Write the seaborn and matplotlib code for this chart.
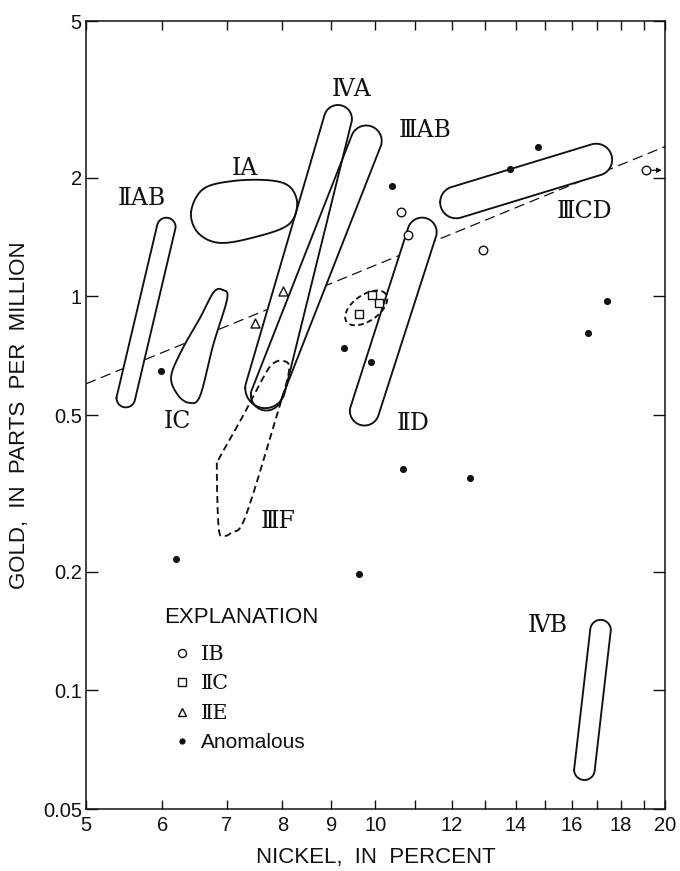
import numpy as np
import matplotlib
matplotlib.use("Agg")
import matplotlib.pyplot as plt
from matplotlib.lines import Line2D
from matplotlib.ticker import FixedLocator, FixedFormatter, NullLocator, NullFormatter
import seaborn as sns

# ---------------- data: gold vs nickel in iron meteorites ----------------
anomalous_ni = [10.40, 13.81, 14.77, 17.39, 16.65, 9.27, 9.89, 10.67, 12.54, 9.61, 5.98, 6.20]
anomalous_au = [1.91, 2.10, 2.39, 0.974, 0.809, 0.738, 0.680, 0.365, 0.345, 0.198, 0.648, 0.216]
ib_ni = [10.63, 10.80, 12.93, 19.11]
ib_au = [1.64, 1.43, 1.31, 2.09]
iic_ni = [9.91, 10.08, 9.61]
iic_au = [1.01, 0.964, 0.901]
iie_ni = [7.50, 8.01]
iie_au = [0.857, 1.03]

trend_ni = [5.0, 20.0]
trend_au = [0.60, 2.40]

# elongated group fields: (nickel, gold) at both ends of the field axis
iiab_axis = [(5.50, 0.552), (6.06, 1.50)]
iva_axis = [(7.68, 0.585), (9.14, 2.82)]
iiiab_axis = [(7.70, 0.562), (9.78, 2.48)]
iid_axis = [(9.74, 0.512), (11.18, 1.455)]
iiicd_axis = [(12.13, 1.733), (16.96, 2.223)]
ivb_axis = [(16.49, 0.0629), (17.14, 0.1422)]

# irregular group fields: outline vertices (nickel, gold)
ia_outline = [(6.43, 1.637), (6.62, 1.873), (7.11, 1.963), (7.77, 1.97), (8.15, 1.895),
              (8.29, 1.706), (8.11, 1.518), (7.50, 1.415), (6.89, 1.367), (6.54, 1.449)]
ic_outline = [(6.94, 1.038), (7.01, 0.985), (6.78, 0.753), (6.57, 0.559), (6.40, 0.537),
              (6.23, 0.562), (6.13, 0.625), (6.29, 0.731), (6.57, 0.882), (6.79, 1.026)]
iiif_outline = [(8.02, 0.686), (8.13, 0.647), (7.88, 0.491), (7.32, 0.275), (7.09, 0.252),
                (6.96, 0.247), (6.87, 0.258), (6.84, 0.371), (6.89, 0.391), (7.27, 0.494),
                (7.62, 0.614), (7.81, 0.673)]
iic_center = (9.78, 0.935)

field_labels = ["\u2163A", "\u2162AB", "\u2160A", "\u2161AB", "\u2160C", "\u2162F", "\u2161D", "\u2162CD", "\u2163B"]
label_ni = [9.45, 11.26, 7.32, 5.72, 6.22, 7.92, 10.94, 16.51, 15.12]
label_au = [3.36, 2.64, 2.11, 1.77, 0.480, 0.269, 0.477, 1.64, 0.146]

legend_labels = ["\u2160B", "\u2161C", "\u2161E", "Anomalous"]

x_ticks = [5, 6, 7, 8, 9, 10, 12, 14, 16, 18, 20]
x_minor = [11, 13, 15, 17, 19]
y_ticks = [0.05, 0.1, 0.2, 0.5, 1, 2, 5]
y_ticklabels = ["0.05", "0.1", "0.2", "0.5", "1", "2", "5"]

# ---------------- style ----------------
sns.set_theme(style="ticks")
plt.rcParams["font.family"] = ["Liberation Sans", "DejaVu Sans"]
plt.rcParams["lines.scale_dashes"] = False
SERIF = ["DejaVu Serif", "DejaVu Sans"]
INK = "#111111"
LW = 1.35

fig = plt.figure(figsize=(6.8, 8.71), dpi=100)
ax = fig.add_axes([86 / 680, 62 / 871, 579 / 680, 788 / 871])
ax.set_xscale("log")
ax.set_yscale("log")
ax.set_xlim(5, 20)
ax.set_ylim(0.05, 5)


def convex_hull(p):
    p = p[np.lexsort((p[:, 1], p[:, 0]))]

    def half(points):
        h = []
        for q in points:
            while len(h) >= 2:
                a = h[-1] - h[-2]
                b = q - h[-2]
                if a[0] * b[1] - a[1] * b[0] <= 0:
                    h.pop()
                else:
                    break
            h.append(q)
        return h

    lower = half(p)
    upper = half(p[::-1])
    return np.array(lower[:-1] + upper[:-1])


def capsule(ends, radii):
    """Rounded field around an axis, built in screen space and mapped back to data."""
    c = ax.transData.transform(np.asarray(ends, float))
    t = np.linspace(0, 2 * np.pi, 240, endpoint=False)
    ring = np.c_[np.cos(t), np.sin(t)]
    pts = np.vstack([c[0] + radii[0] * ring, c[1] + radii[1] * ring])
    h = convex_hull(pts)
    h = np.vstack([h, h[:1]])
    d = ax.transData.inverted().transform(h)
    return d[:, 0], d[:, 1]


def closed_spline(pts, n=40):
    P = np.log10(np.asarray(pts, float))
    m = len(P)
    t = np.linspace(0, 1, n, endpoint=False)[:, None]
    seg = []
    for i in range(m):
        p0, p1, p2, p3 = P[i - 1], P[i], P[(i + 1) % m], P[(i + 2) % m]
        seg.append(0.5 * (2 * p1 + (-p0 + p2) * t + (2 * p0 - 5 * p1 + 4 * p2 - p3) * t ** 2
                          + (-p0 + 3 * p1 - 3 * p2 + p3) * t ** 3))
    out = np.vstack(seg + [seg[0][:1]])
    return 10 ** out[:, 0], 10 ** out[:, 1]


def ellipse(center, a, b, angle_deg):
    c = ax.transData.transform([center])[0]
    t = np.linspace(0, 2 * np.pi, 200)
    th = np.deg2rad(angle_deg)
    x = a * np.cos(t)
    y = b * np.sin(t)
    pts = np.c_[c[0] + x * np.cos(th) - y * np.sin(th), c[1] + x * np.sin(th) + y * np.cos(th)]
    d = ax.transData.inverted().transform(pts)
    return d[:, 0], d[:, 1]


# trend line (hidden inside the fields)
sns.lineplot(x=trend_ni, y=trend_au, ax=ax, color=INK, lw=0.9, estimator=None,
             linestyle=(0, (7.5, 4)), zorder=1)

solid_fields = [
    capsule(iiab_axis, (9.3, 9.3)),
    capsule(iva_axis, (20, 14)),
    capsule(iiiab_axis, (15.5, 15.5)),
    capsule(iid_axis, (14.6, 14.6)),
    capsule(iiicd_axis, (16, 16)),
    capsule(ivb_axis, (10.3, 10.3)),
    closed_spline(ia_outline),
    closed_spline(ic_outline),
]
for fx, fy in solid_fields:
    ax.fill(fx, fy, facecolor="white", edgecolor="none", zorder=2)
for fx, fy in solid_fields:
    ax.plot(fx, fy, color=INK, lw=LW, zorder=3, solid_joinstyle="round")

fx, fy = closed_spline(iiif_outline)
ax.plot(fx, fy, color=INK, lw=LW, linestyle=(0, (5, 3)), zorder=3)
fx, fy = ellipse(iic_center, 24, 13, 35)
ax.plot(fx, fy, color=INK, lw=LW, linestyle=(0, (4, 2.5)), zorder=3)

# meteorite analyses
sns.scatterplot(x=anomalous_ni, y=anomalous_au, ax=ax, marker="o", s=26, color=INK,
                edgecolor=INK, linewidth=0, zorder=5)
sns.scatterplot(x=ib_ni, y=ib_au, ax=ax, marker="o", s=38, facecolor="white",
                edgecolor=INK, linewidth=1.0, zorder=5)
sns.scatterplot(x=iic_ni, y=iic_au, ax=ax, marker="s", s=30, facecolor="white",
                edgecolor=INK, linewidth=1.0, zorder=5)
sns.scatterplot(x=iie_ni, y=iie_au, ax=ax, marker="^", s=42, facecolor="white",
                edgecolor=INK, linewidth=1.0, zorder=5)

# off-scale pointer for the high-nickel IB analysis
ax.annotate("", xy=(19.85, ib_au[3]), xytext=(19.38, ib_au[3]),
            arrowprops=dict(arrowstyle="-|>", color=INK, lw=0.9, mutation_scale=7,
                            shrinkA=0, shrinkB=0), zorder=5)

for txt, lx, ly in zip(field_labels, label_ni, label_au):
    ax.text(lx, ly, txt, ha="center", va="center", fontsize=17, family=SERIF, color=INK, zorder=6)

# axes, ticks
ax.xaxis.set_major_locator(FixedLocator(x_ticks))
ax.xaxis.set_major_formatter(FixedFormatter([str(v) for v in x_ticks]))
ax.xaxis.set_minor_locator(FixedLocator(x_minor))
ax.xaxis.set_minor_formatter(NullFormatter())
ax.yaxis.set_major_locator(FixedLocator(y_ticks))
ax.yaxis.set_major_formatter(FixedFormatter(y_ticklabels))
ax.yaxis.set_minor_locator(NullLocator())
ax.yaxis.set_minor_formatter(NullFormatter())
ax.tick_params(axis="x", which="both", direction="in", top=True, bottom=True, length=6.5,
               width=1.0, color=INK, labelsize=14.5, pad=5, labelcolor=INK)
ax.tick_params(axis="y", which="both", direction="in", left=True, right=True, length=8.5,
               width=1.0, color=INK, labelsize=14.5, pad=3, labelcolor=INK)
for s in ax.spines.values():
    s.set_color(INK)
    s.set_linewidth(1.1)

ax.set_xlabel("NICKEL,  IN  PERCENT", fontsize=16, color=INK, labelpad=9)
ax.set_ylabel("GOLD,  IN  PARTS  PER  MILLION", fontsize=16, color=INK, labelpad=9)

# explanation
ax.text((164 - 86) / 579, (809 - 617) / 788, "EXPLANATION", transform=ax.transAxes,
        ha="left", va="center", fontsize=16, color=INK)
handles = [
    Line2D([], [], ls="none", marker="o", ms=5.8, mfc="white", mec=INK, mew=1.0),
    Line2D([], [], ls="none", marker="s", ms=5.2, mfc="white", mec=INK, mew=1.0),
    Line2D([], [], ls="none", marker="^", ms=6.2, mfc="white", mec=INK, mew=1.0),
    Line2D([], [], ls="none", marker="o", ms=4.5, mfc=INK, mec=INK, mew=0),
]
leg = ax.legend(handles, legend_labels,
                loc="upper left", bbox_to_anchor=((164 - 86) / 579, (809 - 645) / 788),
                frameon=False, fontsize=15, borderpad=0, borderaxespad=0,
                handlelength=1.75, handletextpad=0.0, labelspacing=0.5, alignment="left")
for t in leg.get_texts()[:3]:
    t.set_family(SERIF)
for t in leg.get_texts():
    t.set_color(INK)

fig.savefig("out.png", dpi=100)
